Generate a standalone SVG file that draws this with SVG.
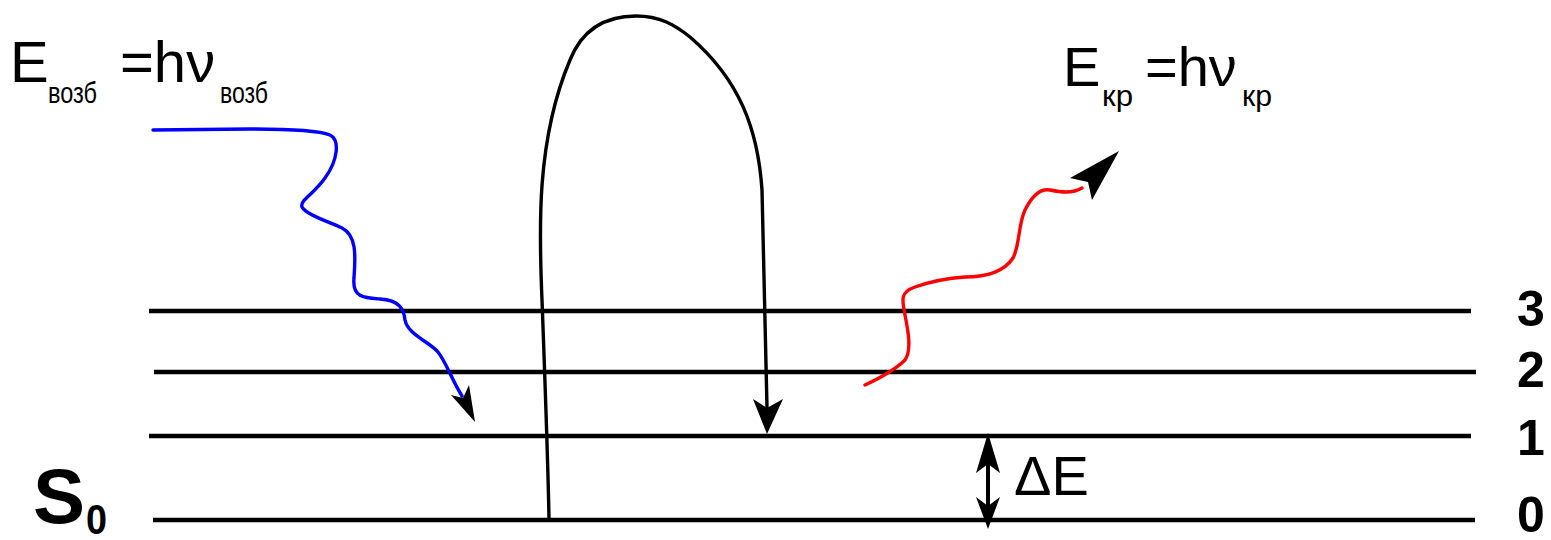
<svg xmlns="http://www.w3.org/2000/svg" width="1551" height="540" viewBox="0 0 1551 540">
<style>
.lvl{stroke:#000;stroke-width:4.5;fill:none}
.t{font-family:"Liberation Sans",Arial,sans-serif;fill:#000}
.b{font-weight:bold}
.ah{fill:#000;stroke:none}
.w{fill:none;stroke-width:3.4;stroke-linecap:round;stroke-linejoin:round}
</style>
<rect width="1551" height="540" fill="#fff"/>
<g id="levels">
<line class="lvl" x1="149" y1="311" x2="1471" y2="311"/>
<line class="lvl" x1="154" y1="372" x2="1476" y2="372"/>
<line class="lvl" x1="149" y1="436" x2="1471" y2="436"/>
<line class="lvl" x1="153" y1="520" x2="1475" y2="520"/>
</g>
<g id="level-labels">
<text class="t b" x="1517" y="326" font-size="50">3</text>
<text class="t b" x="1517" y="387" font-size="50">2</text>
<text class="t b" x="1517" y="455" font-size="50">1</text>
<text class="t b" x="1517" y="532" font-size="50">0</text>
</g>
<g id="S0">
<text class="t b" x="33" y="523" font-size="78">S</text>
<text class="t b" x="86" y="534" font-size="42" textLength="21" lengthAdjust="spacingAndGlyphs">0</text>
</g>
<g id="E-exc">
<text class="t" x="10" y="82" font-size="58">E</text>
<text class="t" x="48" y="103" font-size="30" textLength="49" lengthAdjust="spacingAndGlyphs">возб</text>
<text class="t" x="120" y="82" font-size="58">=hν</text>
<text class="t" x="220" y="103" font-size="30" textLength="48" lengthAdjust="spacingAndGlyphs">возб</text>
</g>
<g id="E-scat">
<text class="t" x="1063" y="86" font-size="56">E</text>
<text class="t" x="1102" y="106" font-size="30" textLength="31" lengthAdjust="spacingAndGlyphs">кр</text>
<text class="t" x="1145" y="86" font-size="56">=hν</text>
<text class="t" x="1242" y="106" font-size="30" textLength="30" lengthAdjust="spacingAndGlyphs">кр</text>
</g>
<g id="connectors">
<g id="excitation">
<path class="w" stroke="#0000ff" d="M153,130 L250,129 C290,129 320,131 330,135 C340,140 338,160 325,178 C312,196 300,200 302,207 C306,215 330,222 342,228 C358,236 355,260 354,278 C352,298 365,298 380,299 C400,300 404,310 405,320 C408,335 430,342 438,352 C446,362 452,380 462,396"/>
<polygon class="ah" points="475,422 451,395 463,398 469,385"/>
</g>
<g id="loop">
<path class="w" stroke="#000" stroke-width="4.5" d="M549,520 C548,460 545,380 542,300 C539,230 536,140 570,60 C582,30 605,16 636,16 C660,16 675,25 690,37 C740,80 758,130 762,190 L767,408"/>
<polygon class="ah" points="767,434 753,399 767,408 783,399"/>
</g>
<g id="scattered">
<path class="w" stroke="#ff0000" stroke-width="4.8" d="M865,385 C880,378 895,370 905,360 C912,350 908,330 905,315 C902,300 900,292 915,287 C935,280 950,278 965,277 C990,277 1005,270 1013,258 C1020,245 1018,225 1025,210 C1032,196 1040,188 1050,190 C1060,192 1072,194 1082,188"/>
<polygon class="ah" points="1119,151 1070,178 1088,182 1092,200"/>
</g>
<g id="deltaE">
<line x1="988" y1="460" x2="988" y2="508" stroke="#000" stroke-width="4"/>
<polygon class="ah" points="988,433 1000,473 988,464 976,473"/>
<polygon class="ah" points="988,529 1000,497 988,506 976,497"/>
</g>
</g>
<g id="deltaE-label">
<text class="t" x="1014" y="495" font-size="56">ΔE</text>
</g>
</svg>
